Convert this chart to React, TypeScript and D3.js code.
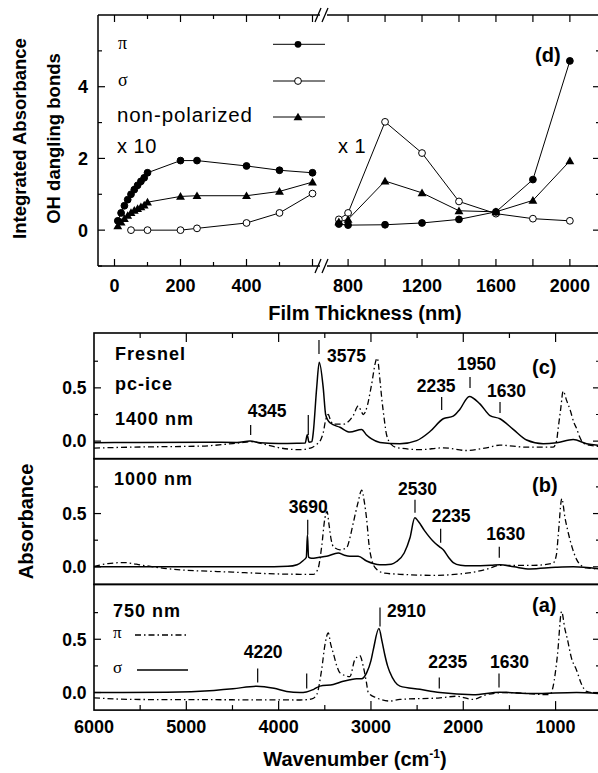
import React from "react";
import * as d3 from "d3";

// ---------------- (d) integrated absorbance vs film thickness ----------------
const thinX = [10, 20, 30, 40, 50, 60, 70, 80, 90, 100, 200, 250, 400, 500, 600];
const thinPi = [0.26, 0.48, 0.68, 0.85, 1.0, 1.13, 1.25, 1.36, 1.46, 1.6, 1.94, 1.94, 1.79, 1.67, 1.6];
const thinNonPol = [0.12, 0.22, 0.32, 0.41, 0.49, 0.55, 0.6, 0.65, 0.7, 0.78, 0.94, 0.96, 0.96, 1.08, 1.34];
const thinSigmaX = [50, 100, 200, 250, 400, 500, 600];
const thinSigma = [0.0, 0.0, 0.0, 0.05, 0.2, 0.48, 1.02];

const thickX = [750, 800, 1000, 1200, 1400, 1600, 1800, 2000];
const thickPi = [0.17, 0.14, 0.15, 0.2, 0.3, 0.51, 1.41, 4.72];
const thickSigma = [0.3, 0.48, 3.02, 2.15, 0.8, 0.46, 0.32, 0.26];
const thickNonPol = [0.23, 0.3, 1.37, 1.04, 0.54, 0.51, 0.83, 1.93];

const dLeftTicks = [0, 100, 200, 300, 400, 500, 600];
const dLeftLabels = [0, 200, 400];
const dRightTicks = [800, 1000, 1200, 1400, 1600, 1800, 2000];
const dRightLabels = [800, 1200, 1600, 2000];
const dYTicks = [-1, 0, 1, 2, 3, 4, 5];
const dYLabels = [0, 2, 4];

// ---------------- spectra: [wavenumber, absorbance] ----------------
const cSigma: [number, number][] = [
  [6000, -0.015], [5500, -0.012], [4800, -0.01], [4450, -0.012], [4310, 0.0], [4200, -0.015],
  [4000, -0.022], [3800, -0.02], [3712, -0.018], [3690, 0.06], [3672, -0.01], [3640, -0.005],
  [3625, 0.08], [3588, 0.5], [3560, 0.74], [3517, 0.5], [3491, 0.25], [3462, 0.19], [3440, 0.17],
  [3336, 0.13], [3228, 0.085], [3101, 0.11], [3050, 0.06], [2993, 0.02], [2903, -0.012],
  [2686, -0.025], [2505, 0.005], [2361, 0.09], [2217, 0.21], [2109, 0.235], [2036, 0.3],
  [1935, 0.42], [1820, 0.35], [1711, 0.24], [1603, 0.21], [1459, 0.11], [1314, 0.01],
  [1134, -0.025], [989, -0.015], [809, 0.015], [664, -0.025], [519, -0.04],
];
const cPi: [number, number][] = [
  [6000, -0.065], [5500, -0.055], [4850, -0.047], [4420, -0.016], [4300, -0.005], [4150, -0.03],
  [3990, -0.063], [3770, -0.08], [3640, -0.06], [3588, -0.03], [3540, 0.02], [3517, 0.08],
  [3490, 0.2], [3462, 0.25], [3440, 0.2], [3408, 0.16], [3300, 0.16], [3192, 0.24], [3137, 0.33],
  [3100, 0.27], [3083, 0.25], [3040, 0.33], [3000, 0.5], [2932, 0.78], [2900, 0.55], [2884, 0.41],
  [2855, 0.2], [2831, 0.06], [2780, -0.03], [2722, -0.06], [2470, -0.08], [2217, -0.063],
  [1965, -0.088], [1749, -0.063], [1603, -0.038], [1314, -0.057], [1026, -0.057], [990, 0.0],
  [972, 0.12], [945, 0.3], [918, 0.47], [880, 0.38], [845, 0.3], [800, 0.17], [773, 0.12],
  [740, 0.04], [701, -0.016], [620, -0.04], [519, -0.05],
];
const bSigma: [number, number][] = [
  [6000, 0.0], [5000, 0.0], [4200, 0.0], [3900, 0.005], [3800, 0.02], [3733, 0.06], [3700, 0.09],
  [3688, 0.3], [3676, 0.09], [3643, 0.08], [3560, 0.09], [3480, 0.1], [3354, 0.13], [3290, 0.11],
  [3228, 0.1], [3138, 0.1], [3047, 0.055], [2903, 0.02], [2780, 0.025], [2722, 0.05], [2640, 0.13],
  [2578, 0.27], [2525, 0.46], [2490, 0.43], [2420, 0.34], [2326, 0.24], [2260, 0.19], [2217, 0.16],
  [2160, 0.09], [2109, 0.04], [2030, 0.015], [1928, 0.01], [1700, 0.015], [1603, 0.02],
  [1450, 0.0], [1278, -0.02], [1000, -0.005], [809, 0.0], [519, -0.02],
];
const bPi: [number, number][] = [
  [6000, 0.005], [5850, 0.03], [5683, 0.04], [5470, 0.014], [5210, -0.017], [4495, -0.05],
  [3769, -0.07], [3625, -0.07], [3574, -0.02], [3534, 0.19], [3500, 0.45], [3475, 0.52],
  [3455, 0.4], [3430, 0.25], [3408, 0.19], [3336, 0.16], [3264, 0.18], [3220, 0.3], [3192, 0.41],
  [3141, 0.6], [3100, 0.72], [3070, 0.6], [3047, 0.45], [3020, 0.2], [2993, 0.07], [2939, -0.023],
  [2850, -0.06], [2686, -0.07], [2325, -0.08], [1965, -0.06], [1749, -0.023], [1603, 0.014],
  [1243, 0.014], [1026, 0.035], [990, 0.12], [972, 0.29], [932, 0.64], [900, 0.47], [863, 0.32],
  [820, 0.18], [773, 0.07], [720, 0.01], [664, -0.01], [519, -0.02],
];
const aSigma: [number, number][] = [
  [6000, 0.0], [5210, 0.003], [4700, 0.02], [4495, 0.035], [4238, 0.06], [4050, 0.04],
  [3913, 0.01], [3769, 0.0], [3700, 0.005], [3620, 0.03], [3552, 0.06], [3408, 0.075],
  [3300, 0.105], [3228, 0.12], [3156, 0.13], [3101, 0.13], [3047, 0.185], [3000, 0.3],
  [2975, 0.4], [2914, 0.6], [2880, 0.48], [2849, 0.35], [2820, 0.25], [2795, 0.19], [2740, 0.1],
  [2686, 0.06], [2470, 0.03], [2253, 0.0], [1893, -0.02], [1603, 0.003], [1243, -0.01],
  [773, 0.0], [519, -0.01],
];
const aPi: [number, number][] = [
  [6000, -0.05], [5571, -0.065], [4500, -0.068], [3769, -0.07], [3640, -0.06], [3588, -0.02],
  [3534, 0.215], [3498, 0.45], [3462, 0.56], [3435, 0.45], [3408, 0.37], [3370, 0.25],
  [3336, 0.185], [3228, 0.15], [3174, 0.31], [3120, 0.345], [3083, 0.245], [3050, 0.1],
  [3029, 0.0], [2939, -0.05], [2795, -0.08], [2686, -0.065], [2253, -0.05], [2072, -0.035],
  [1893, -0.065], [1749, -0.02], [1532, 0.0], [1063, -0.02], [1026, 0.06], [980, 0.35],
  [935, 0.76], [900, 0.6], [872, 0.5], [830, 0.33], [773, 0.21], [720, 0.08], [664, 0.01],
  [519, -0.01],
];

const waveTicks = [5500, 5000, 4500, 4000, 3500, 3000, 2500, 2000, 1500, 1000];
const waveLabels = [6000, 5000, 4000, 3000, 2000, 1000];
const absTicks = [0, 0.25, 0.5, 0.75];
const absLabels = [0, 0.5];

// peak markers: wavenumber of the mark, printed label
const cMarks = [
  { at: 4303, label: "4345" }, { at: 3679, label: "" }, { at: 3563, label: "3575" },
  { at: 2234, label: "2235" }, { at: 1927, label: "1950" }, { at: 1602, label: "1630" },
];
const bMarks = [
  { at: 3685, label: "3690" }, { at: 2523, label: "2530" },
  { at: 2245, label: "2235" }, { at: 1610, label: "1630" },
];
const aMarks = [
  { at: 4227, label: "4220" }, { at: 3696, label: "" }, { at: 2902, label: "2910" },
  { at: 2260, label: "2235" }, { at: 1613, label: "1630" },
];

// ---------------- layout (pixels relative to panel top) ----------------
const cMarkLayout = [
  { t0: 92, t1: 102, dx: -3, ty: 84 }, { t0: 82, t1: 102, dx: 0, ty: 0 },
  { t0: 7, t1: 21, dx: 8, ty: 29 }, { t0: 64, t1: 77, dx: -25, ty: 59 },
  { t0: 44, t1: 55, dx: -13, ty: 37 }, { t0: 69, t1: 80, dx: -13, ty: 64 },
];
const bMarkLayout = [
  { t0: 61, t1: 76, dx: -19, ty: 54 }, { t0: 41, t1: 54, dx: -17, ty: 36 },
  { t0: 70, t1: 84, dx: -9, ty: 63 }, { t0: 88, t1: 99, dx: -13, ty: 81 },
];
const aMarkLayout = [
  { t0: 84, t1: 98, dx: -14, ty: 74 }, { t0: 89, t1: 104, dx: 0, ty: 0 },
  { t0: 23, t1: 42, dx: 7, ty: 33 }, { t0: 93, t1: 104, dx: -11, ty: 84 },
  { t0: 89, t1: 103, dx: -9, ty: 84 },
];

const SANS = "'Liberation Sans', Arial, Helvetica, sans-serif";
const SERIF = "'Liberation Serif', 'Times New Roman', serif";
const INK = "#000";

const PANEL_H = 125.7;
const BX0 = 94;
const BX1 = 600;

export default function App() {
  // ---- top panel scales
  const dTop = 15, dBot = 266, dLeft = 98, dRight = 600;
  const xL = d3.scaleLinear().domain([-50, 640]).range([98, 325.7]);
  const xR = d3.scaleLinear().domain([720, 2163]).range([333.3, 600]);
  const yD = d3.scaleLinear().domain([-1, 6]).range([dBot, dTop]);

  const seg = (xs: number[], ys: number[], sx: d3.ScaleLinear<number, number>) =>
    d3.line<number>().x((_, i) => sx(xs[i])).y((v) => yD(v))(ys) || "";

  const tri = d3.symbol().type(d3.symbolTriangle).size(34)() || "";

  const markers = (xs: number[], ys: number[], sx: d3.ScaleLinear<number, number>, kind: string, key: string) =>
    ys.map((v, i) => {
      const cx = sx(xs[i]);
      const cy = yD(v);
      if (kind === "tri") return <path key={key + i} d={tri} transform={`translate(${cx},${cy + 0.8})`} fill={INK} />;
      return (
        <circle key={key + i} cx={cx} cy={cy} r={3.4} fill={kind === "open" ? "#fff" : INK} stroke={INK} strokeWidth={1} />
      );
    });

  // ---- spectra scales
  const xB = d3.scaleLinear().domain([6000, 519]).range([BX0, BX1]);
  const panels = [
    { top: 333, sigma: cSigma, pi: cPi, marks: cMarks, layout: cMarkLayout, tag: "(c)", tagY: 41 },
    { top: 333 + PANEL_H, sigma: bSigma, pi: bPi, marks: bMarks, layout: bMarkLayout, tag: "(b)", tagY: 33 },
    { top: 333 + 2 * PANEL_H, sigma: aSigma, pi: aPi, marks: aMarks, layout: aMarkLayout, tag: "(a)", tagY: 28 },
  ];
  const bottomY = 333 + 3 * PANEL_H;

  const slash = (x: number, y: number, k: string) => (
    <g key={k}>
      <line x1={x - 3} y1={y + 7} x2={x + 3} y2={y - 7} stroke={INK} strokeWidth={1.3} />
      <line x1={x + 4} y1={y + 7} x2={x + 10} y2={y - 7} stroke={INK} strokeWidth={1.3} />
    </g>
  );

  return (
    <svg
      width={598}
      height={773}
      viewBox="0 0 598 773"
      style={{ position: "absolute", left: 0, top: 0, display: "block", background: "#fff" }}
      fontFamily={SANS}
    >
      <rect x={0} y={0} width={598} height={773} fill="#fff" />
      <defs>
        {panels.map((p, i) => (
          <clipPath id={"clipP" + i} key={i}>
            <rect x={BX0} y={p.top} width={BX1 - BX0} height={PANEL_H} />
          </clipPath>
        ))}
      </defs>

      {/* ================= panel (d) ================= */}
      <g stroke={INK} strokeWidth={1.5} fill="none">
        <line x1={dLeft} y1={dTop} x2={dLeft} y2={dBot} />
        <line x1={dRight} y1={dTop} x2={dRight} y2={dBot} />
        <line x1={dLeft} y1={dTop} x2={320} y2={dTop} />
        <line x1={327} y1={dTop} x2={dRight} y2={dTop} />
        <line x1={dLeft} y1={dBot} x2={320} y2={dBot} />
        <line x1={327} y1={dBot} x2={dRight} y2={dBot} />
      </g>
      {slash(318, dTop, "s1")}
      {slash(318, dBot, "s2")}
      {/* x ticks */}
      <g stroke={INK} strokeWidth={1.2}>
        {dLeftTicks.map((t) => {
          const len = t % 200 === 0 ? 7 : 4;
          return (
            <g key={"lt" + t}>
              <line x1={xL(t)} x2={xL(t)} y1={dBot} y2={dBot - len} />
              <line x1={xL(t)} x2={xL(t)} y1={dTop} y2={dTop + len} />
            </g>
          );
        })}
        {dRightTicks.map((t) => (
          <g key={"rt" + t}>
            <line x1={xR(t)} x2={xR(t)} y1={dBot} y2={dBot - 7} />
            <line x1={xR(t)} x2={xR(t)} y1={dTop} y2={dTop + 7} />
          </g>
        ))}
        {dYTicks.map((t) => {
          const len = t % 2 === 0 ? 7 : 4;
          return (
            <g key={"yt" + t}>
              <line x1={dLeft} x2={dLeft + len} y1={yD(t)} y2={yD(t)} />
              <line x1={dRight} x2={dRight - len} y1={yD(t)} y2={yD(t)} />
            </g>
          );
        })}
      </g>
      <g fontSize={18} fontWeight="bold" fill={INK}>
        {dLeftLabels.map((t) => (
          <text key={"ll" + t} x={xL(t)} y={292} textAnchor="middle">{t}</text>
        ))}
        {dRightLabels.map((t) => (
          <text key={"rl" + t} x={xR(t)} y={292} textAnchor="middle">{t}</text>
        ))}
        {dYLabels.map((t) => (
          <text key={"yl" + t} x={88} y={yD(t)} dy="0.36em" textAnchor="end">{t}</text>
        ))}
      </g>
      <text x={365} y={320} textAnchor="middle" fontSize={20} fontWeight="bold" fill={INK}>
        Film Thickness (nm)
      </text>
      <text transform="translate(26,138.5) rotate(-90)" textAnchor="middle" fontSize={18.5} fontWeight="bold" fill={INK}>
        Integrated Absorbance
      </text>
      <text transform="translate(60,138.5) rotate(-90)" textAnchor="middle" fontSize={18.5} fontWeight="bold" fill={INK}>
        OH dangling bonds
      </text>

      {/* data lines */}
      <g stroke={INK} strokeWidth={1} fill="none">
        <path d={seg(thinX, thinPi, xL)} />
        <path d={seg(thinX, thinNonPol, xL)} />
        <path d={seg(thinSigmaX, thinSigma, xL)} />
        <path d={seg(thickX, thickPi, xR)} />
        <path d={seg(thickX, thickSigma, xR)} />
        <path d={seg(thickX, thickNonPol, xR)} />
      </g>
      {markers(thinX, thinPi, xL, "fill", "a")}
      {markers(thinX, thinNonPol, xL, "tri", "b")}
      {markers(thinSigmaX, thinSigma, xL, "open", "c")}
      {markers(thickX, thickSigma, xR, "open", "d")}
      {markers(thickX, thickNonPol, xR, "tri", "e")}
      {markers(thickX, thickPi, xR, "fill", "f")}

      {/* legend (d) */}
      <text x={118} y={49} fontSize={18} fontFamily={SERIF} fill={INK}>π</text>
      <text x={118} y={86} fontSize={18} fontFamily={SERIF} fill={INK}>σ</text>
      <text x={117} y={122} fontSize={20.5} letterSpacing={0.9} fill={INK}>non-polarized</text>
      <text x={117} y={153} fontSize={20} letterSpacing={0.5} fill={INK}>x 10</text>
      <text x={338} y={153} fontSize={20} letterSpacing={0.5} fill={INK}>x 1</text>
      <text x={535} y={62} fontSize={20} fontWeight="bold" fill={INK}>(d)</text>
      <g stroke={INK} strokeWidth={1}>
        <line x1={273} x2={325} y1={44.3} y2={44.3} />
        <line x1={273} x2={325} y1={81} y2={81} />
        <line x1={273} x2={325} y1={117} y2={117} />
      </g>
      <circle cx={298} cy={44.3} r={3.4} fill={INK} />
      <circle cx={298} cy={81} r={3.4} fill="#fff" stroke={INK} strokeWidth={1} />
      <path d={tri} transform="translate(298,117.8)" fill={INK} />

      {/* ================= spectra panels ================= */}
      {panels.map((p, i) => {
        const y = d3.scaleLinear().domain([-0.165, 1.015]).range([p.top + PANEL_H, p.top]);
        const line = d3
          .line<[number, number]>()
          .x((d) => xB(d[0]))
          .y((d) => y(d[1]))
          .curve(d3.curveMonotoneX);
        return (
          <g key={"p" + i}>
            <g clipPath={`url(#clipP${i})`} fill="none" stroke={INK}>
              <path d={line(p.pi) || ""} strokeWidth={1.3} strokeDasharray="6 3 1.5 3" />
              <path d={line(p.sigma) || ""} strokeWidth={1.5} />
            </g>
            <rect x={BX0} y={p.top} width={BX1 - BX0} height={PANEL_H} fill="none" stroke={INK} strokeWidth={1.6} />
            <g stroke={INK} strokeWidth={1.2}>
              {absTicks.map((t) => {
                const len = t === 0 || t === 0.5 ? 7 : 4;
                return (
                  <g key={"at" + t}>
                    <line x1={BX0} x2={BX0 + len} y1={y(t)} y2={y(t)} />
                    <line x1={BX1} x2={BX1 - len} y1={y(t)} y2={y(t)} />
                  </g>
                );
              })}
              {p.marks.map((m, j) => (
                <line
                  key={"mk" + j}
                  x1={xB(m.at)}
                  x2={xB(m.at)}
                  y1={p.top + p.layout[j].t0}
                  y2={p.top + p.layout[j].t1}
                />
              ))}
            </g>
            <g fontSize={17.5} fontWeight="bold" fill={INK}>
              {absLabels.map((t) => (
                <text key={"al" + t} x={86.5} y={y(t)} dy="0.36em" textAnchor="end">
                  {t.toFixed(1)}
                </text>
              ))}
              {p.marks.map((m, j) =>
                m.label ? (
                  <text key={"ml" + j} x={xB(m.at) + p.layout[j].dx} y={p.top + p.layout[j].ty}>
                    {m.label}
                  </text>
                ) : null
              )}
            </g>
            <text x={532} y={p.top + p.tagY} fontSize={20} fontWeight="bold" fill={INK}>
              {p.tag}
            </text>
          </g>
        );
      })}

      {/* panel texts */}
      <g fontSize={18} fontWeight="bold" fill={INK} letterSpacing={1}>
        <text x={115} y={360}>Fresnel</text>
        <text x={115} y={390}>pc-ice</text>
        <text x={115} y={425}>1400 nm</text>
        <text x={114} y={485}>1000 nm</text>
        <text x={113} y={617}>750 nm</text>
      </g>
      <text x={113} y={638} fontSize={17} fontFamily={SERIF} fill={INK}>π</text>
      <text x={113} y={673} fontSize={17} fontFamily={SERIF} fill={INK}>σ</text>
      <line x1={135} x2={187} y1={635} y2={635} stroke={INK} strokeWidth={1.3} strokeDasharray="6 3 1.5 3" />
      <line x1={137} x2={188} y1={670} y2={670} stroke={INK} strokeWidth={1.5} />

      {/* wavenumber axis */}
      <g stroke={INK} strokeWidth={1.2}>
        {waveTicks.map((t) => {
          const len = t % 1000 === 0 ? 9 : 5;
          return (
            <g key={"wt" + t}>
              <line x1={xB(t)} x2={xB(t)} y1={bottomY} y2={bottomY - len} />
              <line x1={xB(t)} x2={xB(t)} y1={333} y2={333 + len} />
            </g>
          );
        })}
      </g>
      <g fontSize={18} fontWeight="bold" fill={INK}>
        {waveLabels.map((t) => (
          <text key={"wl" + t} x={xB(t)} y={733} textAnchor="middle">{t}</text>
        ))}
      </g>
      <text x={355} y={766} textAnchor="middle" fontSize={20} fontWeight="bold" fill={INK}>
        Wavenumber (cm
        <tspan fontSize={12} dy={-8}>-1</tspan>
        <tspan dy={8}>)</tspan>
      </text>
      <text transform="translate(33,521.5) rotate(-90)" textAnchor="middle" fontSize={20} fontWeight="bold" fill={INK}>
        Absorbance
      </text>
    </svg>
  );
}
